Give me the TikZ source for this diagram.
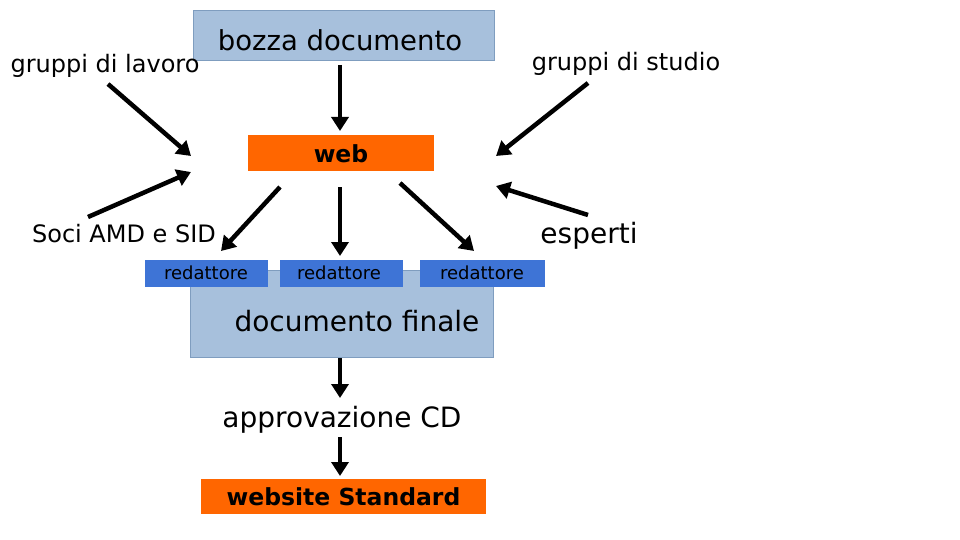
\documentclass[tikz,border=0pt]{standalone}
\usepackage{fontspec}
\setmainfont{DejaVu Sans}
\usetikzlibrary{arrows.meta}
\definecolor{lblue}{HTML}{A7C0DC}
\definecolor{bborder}{HTML}{7F9DBF}
\definecolor{rblue}{HTML}{3E74D6}
\definecolor{orng}{HTML}{FF6600}
\tikzset{
  arr/.style={line width=4.5pt,-{Triangle[width=17pt,length=14pt]}},
  lbox/.style={draw=bborder,fill=lblue,line width=0.7pt,inner sep=0pt},
  obox/.style={fill=orng,inner sep=0pt},
  rbox/.style={fill=rblue,inner sep=0pt},
  txt/.style={inner sep=0pt,text=black},
}
\newcommand{\fs}[1]{\fontsize{#1}{#1}\selectfont}
\begin{document}
\begin{tikzpicture}[x=1pt,y=-1pt]
\useasboundingbox (0,0) rectangle (960,540);
\fill[white] (0,0) rectangle (960,540);
% boxes
\node[lbox,minimum width=301pt,minimum height=50pt] (bozza) at (343.5,35) {};
\node[txt,font=\fs{27.5}] (bozzat) at (340,40) {bozza documento};
\node[obox,minimum width=186pt,minimum height=36pt] (web) at (341,153) {};
\node[txt,font=\fs{23.5}\bfseries] (webt) at (341,154) {web};
\node[lbox,minimum width=303pt,minimum height=87pt] (fin) at (341.5,313.5) {};
\node[txt,font=\fs{28}] (fint) at (357,321) {documento finale};
\node[rbox,minimum width=123pt,minimum height=27pt] (r1) at (206.5,273.5) {};
\node[txt,font=\fs{18}] at (206,273) {redattore};
\node[rbox,minimum width=123pt,minimum height=27pt] (r2) at (341.5,273.5) {};
\node[txt,font=\fs{18}] at (339,273) {redattore};
\node[rbox,minimum width=125pt,minimum height=27pt] (r3) at (482.5,273.5) {};
\node[txt,font=\fs{18}] at (482,273) {redattore};
\node[txt,font=\fs{28}] (appr) at (342,420) {approvazione CD};
\node[obox,minimum width=285pt,minimum height=35pt] (site) at (343.5,496.5) {};
\node[txt,font=\fs{23.5}\bfseries] (sitet) at (343.5,497) {website Standard};
% labels
\node[txt,font=\fs{24}] (lav) at (105,66) {gruppi di lavoro};
\node[txt,font=\fs{24}] (stu) at (626,64) {gruppi di studio};
\node[txt,font=\fs{24}] (soci) at (124,234) {Soci AMD e SID};
\node[txt,font=\fs{28}] (esp) at (589,236) {esperti};
% arrow coordinates
\coordinate (a1s) at (340,65); \coordinate (a1e) at (340,131);
\coordinate (a2s) at (108,84); \coordinate (a2e) at (191,156);
\coordinate (a3s) at (88,217); \coordinate (a3e) at (191,172);
\coordinate (a4s) at (588,83); \coordinate (a4e) at (496,156);
\coordinate (a5s) at (588,215); \coordinate (a5e) at (496,186);
\coordinate (a6s) at (280,187); \coordinate (a6e) at (221,251);
\coordinate (a7s) at (340,187); \coordinate (a7e) at (340,256);
\coordinate (a8s) at (400,183); \coordinate (a8e) at (474,251);
\coordinate (a9s) at (340,358); \coordinate (a9e) at (340,398);
\coordinate (a10s) at (340,437); \coordinate (a10e) at (340,476);
\foreach \i in {1,...,10} \draw[arr] (a\i s) -- (a\i e);
\end{tikzpicture}
\end{document}
